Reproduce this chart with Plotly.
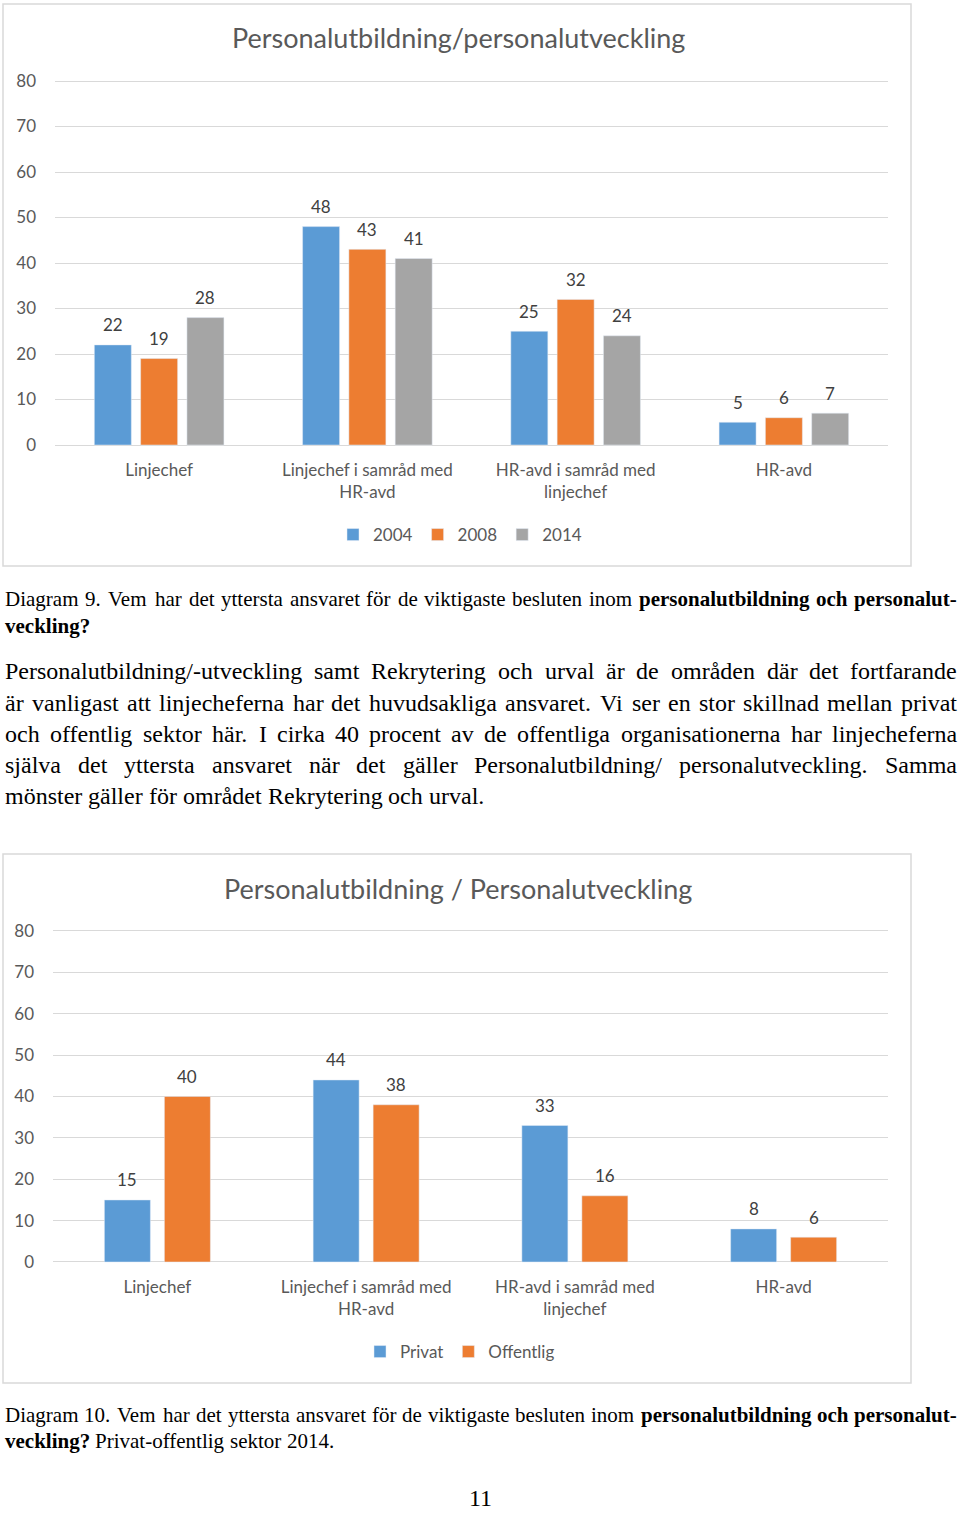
import plotly.graph_objects as go

# ---------------- data ----------------
categories = ["Linjechef", "Linjechef i samråd med HR-avd", "HR-avd i samråd med linjechef", "HR-avd"]
tick_labels = ["Linjechef", "Linjechef i samråd med<br>HR-avd", "HR-avd i samråd med<br>linjechef", "HR-avd"]
y_ticks = [0, 10, 20, 30, 40, 50, 60, 70, 80]

years = ["2004", "2008", "2014"]
v2004 = [22, 48, 25, 5]
v2008 = [19, 43, 32, 6]
v2014 = [28, 41, 24, 7]

sectors = ["Privat", "Offentlig"]
privat = [15, 44, 33, 8]
offentlig = [40, 38, 16, 6]

title1 = "Personalutbildning/personalutveckling"
title2 = "Personalutbildning / Personalutveckling"

# text lines: list of (text, bold) segments, and whether the line is justified
caption9 = [
    ([("Diagram 9. Vem har det yttersta ansvaret för de viktigaste besluten inom", False),
      ("personalutbildning och personalut-", True)], True),
    ([("veckling?", True)], False),
]
body = [
    ([("Personalutbildning/-utveckling samt Rekrytering och urval är de områden där det fortfarande", False)], True),
    ([("är vanligast att linjecheferna har det huvudsakliga ansvaret. Vi ser en stor skillnad mellan privat", False)], True),
    ([("och offentlig sektor här. I cirka 40 procent av de offentliga organisationerna har linjecheferna", False)], True),
    ([("själva det yttersta ansvaret när det gäller Personalutbildning/ personalutveckling. Samma", False)], True),
    ([("mönster gäller för området Rekrytering och urval.", False)], False),
]
caption10 = [
    ([("Diagram 10. Vem har det yttersta ansvaret för de viktigaste besluten inom", False),
      ("personalutbildning och personalut-", True)], True),
    ([("veckling?", True), ("Privat-offentlig sektor 2014.", False)], False),
]
page_no = "11"

# ---------------- style ----------------
W, H = 960, 1517
def py(p):
    return 1 - p / H

BLUE, ORANGE, GRAY = "#5B9BD5", "#ED7D31", "#A5A5A5"
AX_COL = "#595959"
LBL_COL = "#404040"
GRID = "#D9D9D9"
SANS = "Lato, Open Sans, sans-serif"
SERIF = "Liberation Serif, Times New Roman, serif"

# Times/Liberation Serif advance widths (per 1000 em) for justification
REG = dict(a=444, b=500, c=444, d=500, e=444, f=333, g=500, h=500, i=278, j=278, k=500, l=278, m=778,
           n=500, o=500, p=500, q=500, r=333, s=389, t=278, u=500, v=500, w=722, x=500, y=500, z=444,
           A=722, B=667, C=667, D=722, E=611, F=556, G=722, H=722, I=333, J=389, K=722, L=611, M=889,
           N=722, O=722, P=556, Q=722, R=667, S=556, T=611, U=722, V=722, W=944, X=722, Y=722, Z=611)
REG.update({"/": 278, "-": 333, ".": 250, ",": 250, "?": 444, ":": 278})
BOLD = dict(a=500, b=556, c=444, d=556, e=444, f=333, g=500, h=556, i=278, j=333, k=556, l=278, m=833,
            n=556, o=500, p=556, q=556, r=444, s=389, t=333, u=556, v=500, w=722, x=500, y=500, z=444)
BOLD.update({"/": 278, "-": 333, ".": 250, ",": 250, "?": 500, ":": 333})
BASE = {"ä": "a", "å": "a", "ö": "o", "Ä": "A", "Å": "A", "Ö": "O"}

def word_w(word, bold):
    tab = BOLD if bold else REG
    tot = 0
    for ch in word:
        ch = BASE.get(ch, ch)
        if ch.isdigit():
            tot += 500
        else:
            tot += tab.get(ch, REG.get(ch, 500))
    return tot / 1000.0

fig = go.Figure()

# chart 1 geometry (category units)
cat_px1 = (888 - 55) / 4
slot1_px, bar1_px = 46.3, 37
slot1, bar1 = slot1_px / cat_px1, bar1_px / cat_px1
# chart 2 geometry
cat_px2 = (888 - 53) / 4
slot2_px, bar2_px = 60, 46
slot2, bar2 = slot2_px / cat_px2, bar2_px / cat_px2

annotations = []

series1 = [(years[0], v2004, BLUE), (years[1], v2008, ORANGE), (years[2], v2014, GRAY)]
for i, (name, vals, col) in enumerate(series1):
    k = i - (len(series1) - 1) / 2
    fig.add_trace(go.Bar(x=categories, y=vals, name=name, marker_color=col,
                         width=bar1, offset=k * slot1 - bar1 / 2,
                         xaxis="x", yaxis="y", legend="legend", hoverinfo="skip"))
    for c, v in zip(categories, vals):
        annotations.append(dict(x=c, y=v, xref="x", yref="y", text=str(v), showarrow=False,
                                xshift=k * slot1_px, yshift=20, yanchor="middle",
                                font=dict(family=SANS, size=17, color=LBL_COL)))

series2 = [(sectors[0], privat, BLUE), (sectors[1], offentlig, ORANGE)]
for i, (name, vals, col) in enumerate(series2):
    k = i - (len(series2) - 1) / 2
    fig.add_trace(go.Bar(x=categories, y=vals, name=name, marker_color=col,
                         width=bar2, offset=k * slot2 - bar2 / 2,
                         xaxis="x2", yaxis="y2", legend="legend2", hoverinfo="skip"))
    for c, v in zip(categories, vals):
        annotations.append(dict(x=c, y=v, xref="x2", yref="y2", text=str(v), showarrow=False,
                                xshift=k * slot2_px, yshift=20, yanchor="middle",
                                font=dict(family=SANS, size=17, color=LBL_COL)))

# titles
annotations.append(dict(x=458 / W, y=py(38), xref="paper", yref="paper", text=title1, showarrow=False,
                        xanchor="center", yanchor="middle", font=dict(family=SANS, size=27, color=AX_COL)))
annotations.append(dict(x=458 / W, y=py(888), xref="paper", yref="paper", text=title2, showarrow=False,
                        xanchor="center", yanchor="middle", font=dict(family=SANS, size=27, color=AX_COL)))

X0, X1 = 4, 956

def add_lines(lines, ys, size):
    for (segs, justify), yy in zip(lines, ys):
        words = []
        for txt, b in segs:
            for wd in txt.split(" "):
                if wd:
                    words.append((wd, b))
        widths = [word_w(wd, b) * size for wd, b in words]
        if justify and len(words) > 1:
            gap = (X1 - X0 - sum(widths)) / (len(words) - 1)
        else:
            gap = 0.25 * size
        x = X0
        for (wd, b), wpx in zip(words, widths):
            annotations.append(dict(x=x / W, y=py(yy), xref="paper", yref="paper",
                                    text=("<b>%s</b>" % wd) if b else wd, showarrow=False,
                                    xanchor="left", yanchor="middle", borderpad=0,
                                    font=dict(family=SERIF, size=size, color="#000000")))
            x += wpx + gap

add_lines(caption9, [599, 626], 21)
add_lines(body, [671, 703, 734, 765, 796], 24)
add_lines(caption10, [1415, 1441], 21)
annotations.append(dict(x=480 / W, y=py(1498), xref="paper", yref="paper", text=page_no, showarrow=False,
                        xanchor="center", yanchor="middle", borderpad=0,
                        font=dict(family=SERIF, size=24, color="#000000")))

# extend y range a touch so that the 0 and 80 gridlines are drawn
pad = 0.3
def ydomain(px0, px80):
    ppu = (px0 - px80) / 80.0
    return [py(px0 + pad * ppu), py(px80 - pad * ppu)]

xcommon = dict(type="category", categoryorder="array", categoryarray=categories,
               tickmode="array", tickvals=categories, ticktext=tick_labels,
               showgrid=False, showline=False, zeroline=False, ticks="", automargin=False,
               tickfont=dict(family=SANS, size=17, color=AX_COL), ticklabelstandoff=12,
               range=[-0.5, 3.5], fixedrange=True)
ycommon = dict(range=[-pad, 80 + pad], tickmode="array", tickvals=y_ticks, showgrid=True, gridcolor=GRID,
               gridwidth=1, zeroline=False, showline=False, ticks="", automargin=False,
               tickfont=dict(family=SANS, size=17, color=AX_COL), ticklabelstandoff=18, fixedrange=True)

fig.update_layout(
    width=W, height=H, margin=dict(l=0, r=0, t=0, b=0, pad=0, autoexpand=False),
    paper_bgcolor="white", plot_bgcolor="white",
    barmode="overlay", showlegend=True,
    xaxis=dict(xcommon, domain=[55 / W, 888 / W], anchor="y"),
    yaxis=dict(ycommon, domain=ydomain(445, 81), anchor="x"),
    xaxis2=dict(xcommon, domain=[53 / W, 888 / W], anchor="y2"),
    yaxis2=dict(ycommon, domain=ydomain(1262, 931), anchor="x2"),
    legend=dict(orientation="h", x=460 / W, xanchor="center", y=py(535), yanchor="middle",
                font=dict(family=SANS, size=17, color=AX_COL), itemwidth=30,
                bgcolor="rgba(0,0,0,0)"),
    legend2=dict(orientation="h", x=460 / W, xanchor="center", y=py(1352), yanchor="middle",
                 font=dict(family=SANS, size=17, color=AX_COL), itemwidth=30,
                 bgcolor="rgba(0,0,0,0)"),
    annotations=annotations,
    shapes=[
        dict(type="rect", xref="paper", yref="paper", x0=3 / W, x1=911 / W, y0=py(566), y1=py(4),
             line=dict(color=GRID, width=1.5), layer="below"),
        dict(type="rect", xref="paper", yref="paper", x0=3 / W, x1=911 / W, y0=py(1383), y1=py(854),
             line=dict(color=GRID, width=1.5), layer="below"),
    ],
)

fig.write_html("out.html", config={"displayModeBar": False},
               post_script="document.body.style.margin='0px';")
